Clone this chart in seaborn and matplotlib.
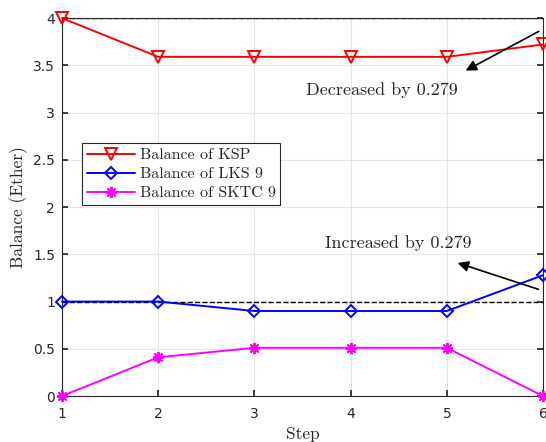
import matplotlib
matplotlib.use("Agg")
import matplotlib.pyplot as plt
import numpy as np
import pandas as pd
import seaborn as sns
from matplotlib.ticker import FuncFormatter

steps = [1, 2, 3, 4, 5, 6]
ksp = [4.0, 3.59, 3.59, 3.59, 3.59, 3.721]
lks = [1.0, 1.0, 0.9, 0.9, 0.9, 1.279]
sktc = [0.0, 0.41, 0.51, 0.51, 0.51, 0.0]
ref_levels = [4.0, 1.0]
labels = ["Balance of KSP", "Balance of LKS 9", "Balance of SKTC 9"]

df = pd.DataFrame({
    "Step": steps * 3,
    "Balance": ksp + lks + sktc,
    "series": [labels[0]] * 6 + [labels[1]] * 6 + [labels[2]] * 6,
})

sns.set_theme(style="whitegrid")
plt.rcParams["font.family"] = ["DejaVu Sans"]
serif = "cmr10"

fig = plt.figure(figsize=(5.46, 4.42), dpi=100)
ax = fig.add_axes([0.1136, 0.104, 0.881, 0.855])

styles = {
    labels[0]: dict(color="red", marker="v", ms=8),
    labels[1]: dict(color="blue", marker="D", ms=6.5),
    labels[2]: dict(color="magenta", marker=(8, 2, 0), ms=8),
}
for name, st in styles.items():
    sns.lineplot(data=df[df["series"] == name], x="Step", y="Balance", ax=ax,
                 color=st["color"], marker=st["marker"], markersize=st["ms"],
                 markerfacecolor="none" if name != labels[2] else st["color"],
                 markeredgecolor=st["color"], markeredgewidth=1.4,
                 linewidth=1.4, label=name, clip_on=False, zorder=3)

for lv in ref_levels:
    ax.plot([steps[0], steps[-1]], [lv, lv], color="black", ls="--", lw=1.0, zorder=2)

ax.annotate("", xy=(5.17, 3.43), xytext=(5.98, 3.873),
            arrowprops=dict(arrowstyle="-|>", color="black", lw=1.2, mutation_scale=16))
ax.text(4.32, 3.24, "Decreased by 0.279", family=serif, fontsize=13,
        ha="center", va="center")
ax.annotate("", xy=(5.085, 1.418), xytext=(5.98, 1.12),
            arrowprops=dict(arrowstyle="-|>", color="black", lw=1.2, mutation_scale=16))
ax.text(4.50, 1.62, "Increased by 0.279", family=serif, fontsize=13,
        ha="center", va="center")

ax.set_xlim(1, 6)
ax.set_ylim(0, 4)
ax.set_xticks(steps)
ax.set_yticks(np.arange(0, 4.01, 0.5))
ax.yaxis.set_major_formatter(FuncFormatter(lambda v, p: f"{v:g}"))
ax.tick_params(direction="in", length=4, colors="#262626", labelsize=10,
               top=False, right=True, left=True, bottom=True, pad=5)
ax.tick_params(axis="x", pad=8)
ax.grid(True, color="#e6e6e6", lw=0.8)
for sp in ax.spines.values():
    sp.set_visible(True)
    sp.set_color("#262626")
    sp.set_linewidth(0.8)

ax.set_xlabel("Step", family=serif, fontsize=12.5, labelpad=4)
ax.set_ylabel("Balance (Ether)", family=serif, fontsize=12.5, labelpad=4)

leg = ax.legend(loc="upper left", bbox_to_anchor=(0.042, 0.669),
                borderaxespad=0,
                prop={"family": serif, "size": 11.5}, frameon=True,
                fancybox=False, edgecolor="#262626", framealpha=1,
                handlelength=3.0, borderpad=0.3, labelspacing=0.3,
                handletextpad=0.3)
leg.get_frame().set_linewidth(0.8)

fig.savefig("out.png", dpi=100)
